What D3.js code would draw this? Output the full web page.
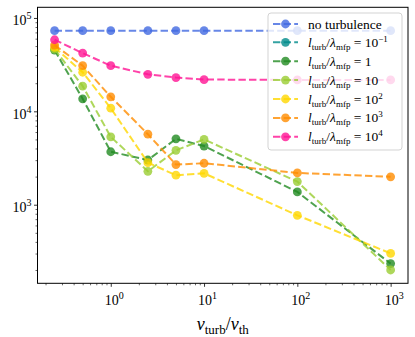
<!DOCTYPE html>
<html>
<head>
<meta charset="utf-8">
<script src="https://cdn.jsdelivr.net/npm/d3@7"></script>
<style>
body { margin: 0; background: #fff; }
svg { display: block; }
svg text { font-family: "Liberation Serif", "DejaVu Serif", serif; fill: #000; }
</style>
</head>
<body>
<svg id="chart"></svg>
<script>
// x values (v_turb / v_th)
const vRatio = [0.25, 0.5, 1, 2.5, 5, 10, 100, 1000];

// y values per run
const noTurbulence = [73000, 73000, 73000, 73000, 73000, 73000, 73000, 73000];
const lRatio1em1 = [];   // not visible in the figure
const lRatio1e0 = [45300, 13600, 3690, 3010, 5070, 4250, 1370, 234];
const lRatio1e1 = [46400, 18600, 5330, 2280, 3820, 5000, 1770, 200];
const lRatio1e2 = [48300, 26200, 10800, 2820, 2070, 2170, 770, 301];
const lRatio1e3 = [51200, 30800, 14300, 5690, 2690, 2780, 2190, 1990];
const lRatio1e4 = [58400, 42000, 30800, 24900, 23000, 21900, 21700, 21700];

// legend right-hand sides: [base, exponent]
const legendRhs = [null, ["10", "\u22121"], ["1", ""], ["10", ""], ["10", "2"], ["10", "3"], ["10", "4"]];

const xMajor = [1, 10, 100, 1000];
const yMajor = [1000, 10000, 100000];

const series = [
    {values: noTurbulence, color: "#4169e1"},
    {values: lRatio1em1, color: "#008b8b"},
    {values: lRatio1e0, color: "#228b22"},
    {values: lRatio1e1, color: "#9acd32"},
    {values: lRatio1e2, color: "#ffd700"},
    {values: lRatio1e3, color: "#ff8c00"},
    {values: lRatio1e4, color: "#ff1493"}
];

const FONT = '"Liberation Serif", "DejaVu Serif", serif';

const config = {
    width: 415,
    height: 337,
    margin: {top: 7.3, right: 7, bottom: 53.7, left: 37.5}
};

const svg = d3.select("#chart")
    .attr("width", config.width)
    .attr("height", config.height)
    .attr("font-family", FONT);

const innerW = config.width - config.margin.left - config.margin.right;
const innerH = config.height - config.margin.top - config.margin.bottom;

const chart = svg.append("g")
    .attr("transform", `translate(${config.margin.left}, ${config.margin.top})`);

const xscale = d3.scaleLog().domain([0.164, 1535]).range([0, innerW]);
const yscale = d3.scaleLog().domain([144, 130000]).range([innerH, 0]);

// minor ticks
function minors(scale) {
    const [a, b] = scale.domain();
    const out = [];
    for (let e = Math.floor(Math.log10(a)); e <= Math.ceil(Math.log10(b)); e++) {
        for (let k = 2; k <= 9; k++) {
            const v = k * Math.pow(10, e);
            if (v >= a && v <= b) out.push(v);
        }
    }
    return out;
}

chart.append("g")
    .attr("transform", `translate(0, ${innerH})`)
    .call(d3.axisBottom(xscale).tickValues(minors(xscale)).tickSize(2).tickFormat(""))
    .call(g => g.select(".domain").remove())
    .call(g => g.selectAll("line").attr("stroke-width", 0.6));

chart.append("g")
    .call(d3.axisLeft(yscale).tickValues(minors(yscale)).tickSize(2).tickFormat(""))
    .call(g => g.select(".domain").remove())
    .call(g => g.selectAll("line").attr("stroke-width", 0.6));

function powLabel(sel, exp) {
    sel.text(null);
    sel.append("tspan").text("10");
    sel.append("tspan").attr("dy", -6).attr("font-size", 10).text(exp);
}

const xAxisG = chart.append("g")
    .attr("transform", `translate(0, ${innerH})`)
    .call(d3.axisBottom(xscale).tickValues(xMajor).tickSize(3.5).tickPadding(4).tickFormat(""));
xAxisG.attr("font-family", FONT);
xAxisG.select(".domain").remove();
xAxisG.selectAll("line").attr("stroke-width", 0.8);
xAxisG.selectAll(".tick text")
    .attr("font-size", 14)
    .attr("y", 22)
    .attr("dy", 0)
    .attr("dx", 3)
    .each(function(d) { powLabel(d3.select(this), Math.round(Math.log10(d))); });

const yAxisG = chart.append("g")
    .call(d3.axisLeft(yscale).tickValues(yMajor).tickSize(3.5).tickPadding(4).tickFormat(""));
yAxisG.attr("font-family", FONT);
yAxisG.select(".domain").remove();
yAxisG.selectAll("line").attr("stroke-width", 0.8);
yAxisG.selectAll(".tick text")
    .attr("font-size", 14)
    .attr("x", -6)
    .attr("dy", 7)
    .each(function(d) { powLabel(d3.select(this), Math.round(Math.log10(d))); });

// frame
chart.append("rect")
    .attr("width", innerW)
    .attr("height", innerH)
    .attr("fill", "none")
    .attr("stroke", "#000")
    .attr("stroke-width", 1);

// lines and points
const line = d3.line()
    .defined(d => d.y != null)
    .x(d => xscale(d.x))
    .y(d => yscale(d.y));

series.forEach(s => {
    const pts = s.values.map((v, i) => ({x: vRatio[i], y: v}));
    const g = chart.append("g");
    g.append("path")
        .attr("d", line(pts))
        .attr("fill", "none")
        .attr("stroke", s.color)
        .attr("stroke-opacity", 0.8)
        .attr("stroke-width", 2)
        .attr("stroke-dasharray", "7.4 3.2");
    g.selectAll("circle")
        .data(pts)
        .enter()
        .append("circle")
        .attr("cx", d => xscale(d.x))
        .attr("cy", d => yscale(d.y))
        .attr("r", 4.4)
        .attr("fill", s.color)
        .attr("fill-opacity", 0.8);
});

// x label
const xl = svg.append("text")
    .attr("x", config.margin.left + innerW / 2)
    .attr("y", 330)
    .attr("text-anchor", "middle")
    .attr("font-size", 18);
xl.append("tspan").attr("font-style", "italic").text("v");
xl.append("tspan").attr("font-size", 13).attr("dy", 4).text("turb");
xl.append("tspan").attr("dy", -4).text("/");
xl.append("tspan").attr("font-style", "italic").text("v");
xl.append("tspan").attr("font-size", 13).attr("dy", 4).text("th");

// legend
const legend = svg.append("g");
legend.append("rect")
    .attr("x", 268).attr("y", 13)
    .attr("width", 134).attr("height", 137)
    .attr("rx", 3)
    .attr("fill", "#fff").attr("fill-opacity", 0.8)
    .attr("stroke", "#d3d3d3").attr("stroke-width", 1);

series.forEach((s, i) => {
    const cy = i === 0 ? 24 : 42.3 + 18.9 * (i - 1);
    const row = legend.append("g").attr("transform", `translate(0, ${cy})`);
    row.append("line")
        .attr("x1", 273).attr("x2", 298)
        .attr("stroke", s.color).attr("stroke-opacity", 0.8)
        .attr("stroke-width", 2).attr("stroke-dasharray", "7.4 3.2");
    row.append("circle")
        .attr("cx", 285.5).attr("r", 4.4)
        .attr("fill", s.color).attr("fill-opacity", 0.8);
    const t = row.append("text").attr("x", 308).attr("y", 4.5).attr("font-size", 13.5);
    if (legendRhs[i] === null) {
        t.text("no turbulence");
    } else {
        t.append("tspan").attr("font-style", "italic").text("l");
        t.append("tspan").attr("font-size", 9).attr("dy", 3).text("turb");
        t.append("tspan").attr("dy", -3).text("/");
        t.append("tspan").attr("font-style", "italic").text("\u03bb");
        t.append("tspan").attr("font-size", 9).attr("dy", 3).text("mfp");
        t.append("tspan").attr("dy", -3).text(" = " + legendRhs[i][0]);
        if (legendRhs[i][1]) {
            t.append("tspan").attr("font-size", 9).attr("dy", -5).text(legendRhs[i][1]);
        }
    }
});
</script>
</body>
</html>
